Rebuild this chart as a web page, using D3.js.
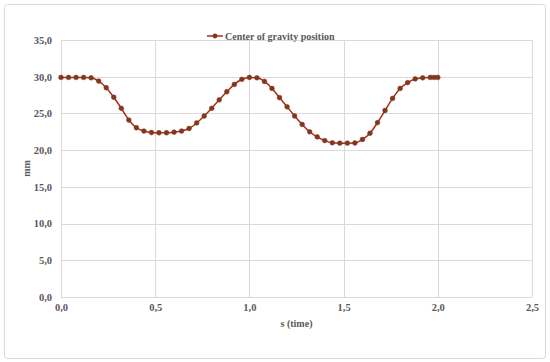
<!DOCTYPE html>
<html>
<head>
<meta charset="utf-8">
<script src="https://cdn.jsdelivr.net/npm/d3@7/dist/d3.min.js"></script>
<style>
  body { margin: 0; background: #fff; }
  svg { display: block; }
  text { font-family: "Liberation Serif", "Times New Roman", serif; font-weight: bold; fill: #595959; }
</style>
</head>
<body>
<svg id="chart" width="550" height="362"></svg>
<script>
// ---- data ----
const seriesName = "Center of gravity position";
const times = [0, 0.04, 0.08, 0.12, 0.16, 0.20, 0.24, 0.28, 0.32, 0.36, 0.40, 0.44, 0.48,
  0.52, 0.56, 0.60, 0.64, 0.68, 0.72, 0.76, 0.80, 0.84, 0.88, 0.92, 0.96, 1.00,
  1.04, 1.08, 1.12, 1.16, 1.20, 1.24, 1.28, 1.32, 1.36, 1.40, 1.44, 1.48, 1.52,
  1.56, 1.60, 1.64, 1.68, 1.72, 1.76, 1.80, 1.84, 1.88, 1.92, 1.96, 1.98, 2.00];
const positions = [29.9, 29.9, 29.9, 29.9, 29.85, 29.4, 28.5, 27.2, 25.7, 24.1, 23.05, 22.6, 22.4,
  22.37, 22.37, 22.45, 22.6, 22.95, 23.7, 24.65, 25.7, 26.85, 27.95, 28.95, 29.65, 29.9,
  29.85, 29.35, 28.4, 27.15, 25.9, 24.65, 23.5, 22.5, 21.8, 21.3, 21.0, 20.95, 20.95,
  20.97, 21.45, 22.3, 23.75, 25.4, 27.05, 28.4, 29.2, 29.7, 29.85, 29.9, 29.9, 29.9];
const xTicks = [0, 0.5, 1.0, 1.5, 2.0, 2.5];
const yTicks = [0, 5, 10, 15, 20, 25, 30, 35];
const xTitle = "s (time)";
const yTitle = "mm";

// ---- layout ----
const svg = d3.select("#chart");
const plot = { left: 61, right: 532, top: 40, bottom: 297 };
const x = d3.scaleLinear().domain([0, 2.5]).range([plot.left, plot.right]);
const y = d3.scaleLinear().domain([0, 35]).range([plot.bottom, plot.top]);
const fmt = v => d3.format(".1f")(v).replace(".", ",");

// outer border
svg.append("rect").attr("x", 4.5).attr("y", 4.5).attr("width", 541).attr("height", 354)
  .attr("rx", 3).attr("fill", "#fff").attr("stroke", "#d9d9d9").attr("stroke-width", 1);

// gridlines
svg.append("g").selectAll("line").data(yTicks).join("line")
  .attr("x1", plot.left).attr("x2", plot.right)
  .attr("y1", d => Math.round(y(d)) + 0.5).attr("y2", d => Math.round(y(d)) + 0.5)
  .attr("stroke", "#d9d9d9").attr("stroke-width", 1);
svg.append("g").selectAll("line").data(xTicks).join("line")
  .attr("y1", plot.top).attr("y2", plot.bottom)
  .attr("x1", d => Math.round(x(d)) + 0.5).attr("x2", d => Math.round(x(d)) + 0.5)
  .attr("stroke", "#d9d9d9").attr("stroke-width", 1);

// axes (labels only, via d3 axis)
const yAxis = svg.append("g").attr("transform", `translate(${plot.left},0)`)
  .call(d3.axisLeft(y).tickValues(yTicks).tickFormat(fmt).tickSize(0).tickPadding(9));
yAxis.select(".domain").remove();
yAxis.selectAll("text").attr("font-size", 10.5).attr("font-family", null).attr("fill", null);

const xAxis = svg.append("g").attr("transform", `translate(0,${plot.bottom})`)
  .call(d3.axisBottom(x).tickValues(xTicks).tickFormat(fmt).tickSize(0).tickPadding(7));
xAxis.select(".domain").remove();
xAxis.selectAll("text").attr("font-size", 10.5).attr("font-family", null).attr("fill", null);

// axis titles
svg.append("text").attr("x", (plot.left + plot.right) / 2).attr("y", 327)
  .attr("text-anchor", "middle").attr("font-size", 10).text(xTitle);
svg.append("text").attr("transform", `translate(30,${(plot.top + plot.bottom) / 2}) rotate(-90)`)
  .attr("text-anchor", "middle").attr("font-size", 10).text(yTitle);

// series
const data = times.map((t, i) => ({ t, v: positions[i] }));
svg.append("path").datum(data)
  .attr("fill", "none").attr("stroke", "#a3301e").attr("stroke-width", 1.5)
  .attr("d", d3.line().x(d => x(d.t)).y(d => y(d.v)).curve(d3.curveMonotoneX));
svg.append("g").selectAll("circle").data(data).join("circle")
  .attr("cx", d => x(d.t)).attr("cy", d => y(d.v)).attr("r", 2.4)
  .attr("fill", "#7d3a1c").attr("stroke", "#8a331c").attr("stroke-width", 0.5);

// legend
const lg = svg.append("g").attr("transform", "translate(207,36)");
lg.append("line").attr("x1", 0).attr("x2", 16).attr("y1", 0).attr("y2", 0)
  .attr("stroke", "#a3301e").attr("stroke-width", 1.5);
lg.append("circle").attr("cx", 8).attr("cy", 0).attr("r", 2.4).attr("fill", "#7d3a1c");
lg.append("text").attr("x", 18).attr("y", 3.5).attr("font-size", 10).text(seriesName);
</script>
</body>
</html>
